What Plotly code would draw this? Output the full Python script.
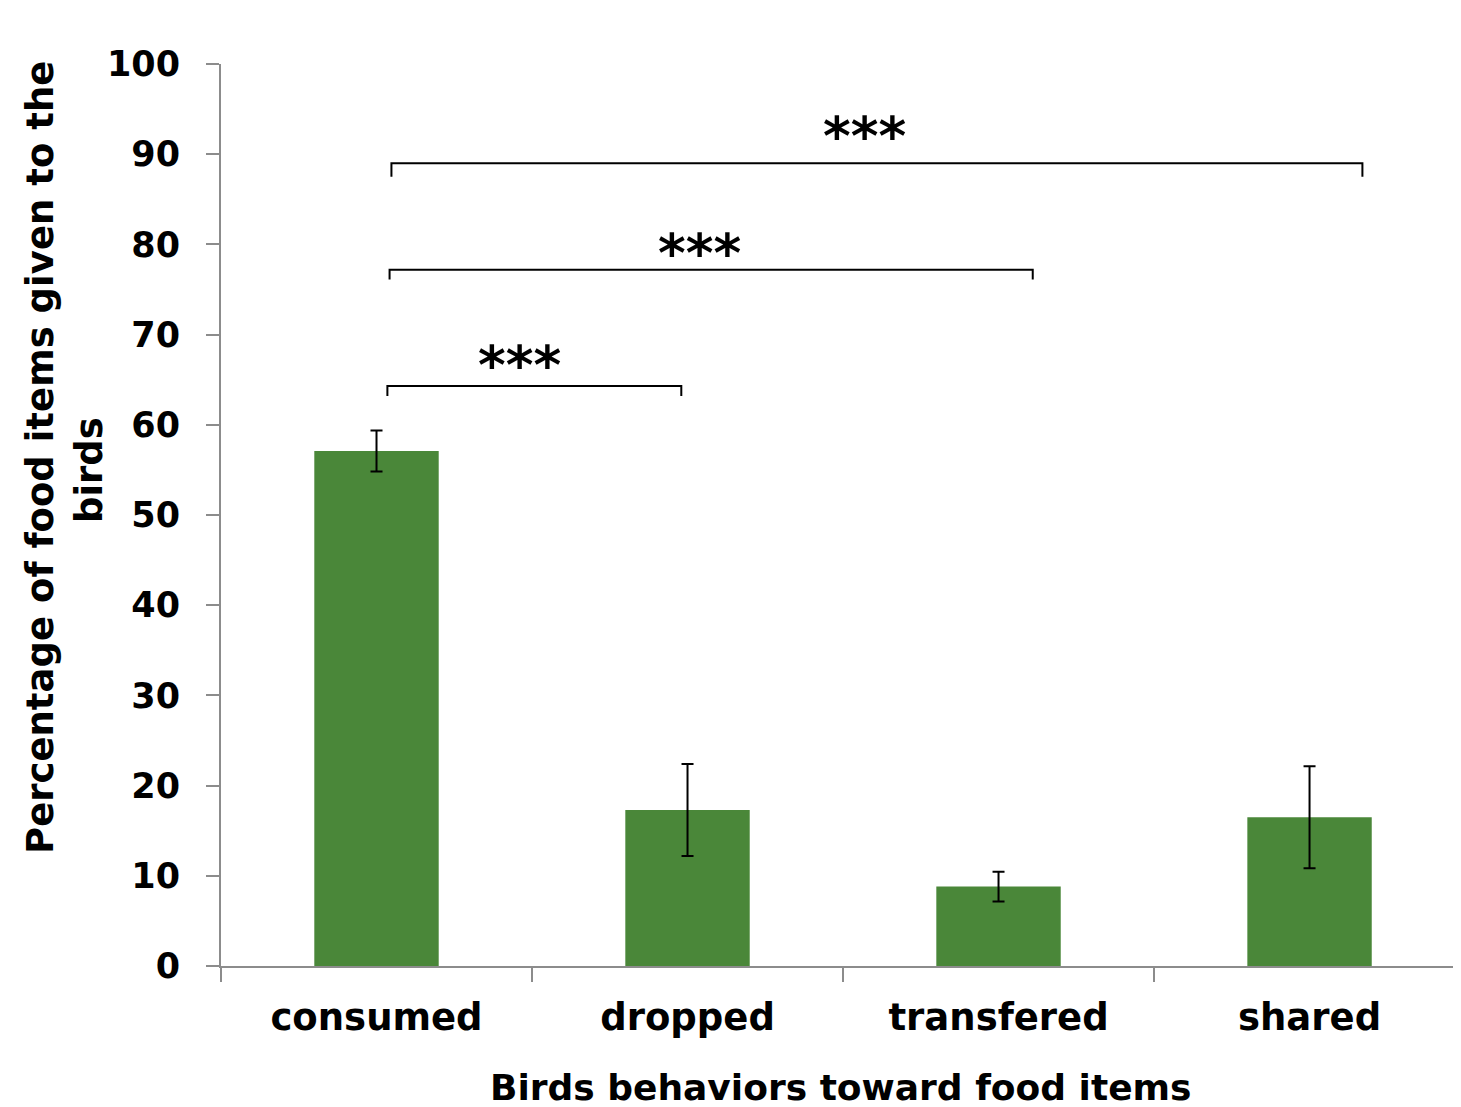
import plotly.graph_objects as go

categories = ["consumed", "dropped", "transfered", "shared"]
values = [57.1, 17.3, 8.8, 16.5]
errors = [2.27, 5.1, 1.66, 5.65]

y_ticks = [0, 10, 20, 30, 40, 50, 60, 70, 80, 90, 100]

# significance brackets
bracket_left = [0.035, 0.042, 0.048]
bracket_right = [0.98, 2.11, 3.17]
bracket_y = [64.3, 77.2, 89.0]
bracket_end = [63.2, 76.1, 87.5]
bracket_label = ["***", "***", "***"]
label_x = [0.46, 1.04, 1.57]
label_y = [66.6, 79.0, 92.0]

FONT = "DejaVu Sans"
AXIS_COLOR = "#8c8c8c"

fig = go.Figure()
fig.add_trace(go.Bar(
    x=categories, y=values, width=0.4,
    marker=dict(color="#4a8739", line=dict(width=0)),
    error_y=dict(type="data", array=errors, visible=True,
                 color="black", thickness=2, width=6),
    showlegend=False,
))

shapes = []
annotations = []
for xl, xr, yb, ye, lab, lx, ly in zip(bracket_left, bracket_right, bracket_y,
                                        bracket_end, bracket_label, label_x, label_y):
    shapes.append(dict(
        type="path", xref="x", yref="y",
        path=f"M {xl},{ye} L {xl},{yb} L {xr},{yb} L {xr},{ye}",
        line=dict(color="black", width=2),
    ))
    annotations.append(dict(
        x=lx, y=ly, xref="x", yref="y", text=f"<b>{lab}</b>", showarrow=False,
        font=dict(family=FONT, size=53, color="black"),
        xanchor="center", yanchor="middle",
    ))

# y-axis title, two lines
annotations.append(dict(
    x=-0.146, y=0.5643, xref="paper", yref="paper",
    text="<b>Percentage of food items given to the</b>",
    textangle=-90, showarrow=False,
    font=dict(family=FONT, size=37, color="black"),
    xanchor="center", yanchor="middle",
))
annotations.append(dict(
    x=-0.1056, y=0.5499, xref="paper", yref="paper",
    text="<b>birds</b>",
    textangle=-90, showarrow=False,
    font=dict(family=FONT, size=37, color="black"),
    xanchor="center", yanchor="middle",
))
annotations.append(dict(
    x=0.5, y=-0.135, xref="paper", yref="paper",
    text="<b>Birds behaviors toward food items</b>",
    showarrow=False,
    font=dict(family=FONT, size=36, color="black"),
    xanchor="center", yanchor="middle",
))

fig.update_layout(
    width=1453, height=1099,
    margin=dict(l=213, r=0, t=56, b=141),
    paper_bgcolor="white", plot_bgcolor="white",
    shapes=shapes, annotations=annotations,
    xaxis=dict(
        type="category", range=[-0.5, 3.487],
        showline=True, linecolor=AXIS_COLOR, linewidth=2,
        ticks="outside", tickson="boundaries", ticklen=14,
        tickcolor=AXIS_COLOR, tickwidth=2,
        tickfont=dict(family=FONT, size=37, color="black", weight="bold"),
        ticklabelstandoff=18,
        showgrid=False, zeroline=False,
    ),
    yaxis=dict(
        range=[0, 100], tickvals=y_ticks,
        showline=True, linecolor=AXIS_COLOR, linewidth=2,
        ticks="outside", ticklen=13, tickcolor=AXIS_COLOR, tickwidth=2,
        tickfont=dict(family=FONT, size=35, color="black", weight="bold"),
        ticklabelstandoff=19,
        showgrid=False, zeroline=False,
    ),
)

fig.write_html("out.html")
